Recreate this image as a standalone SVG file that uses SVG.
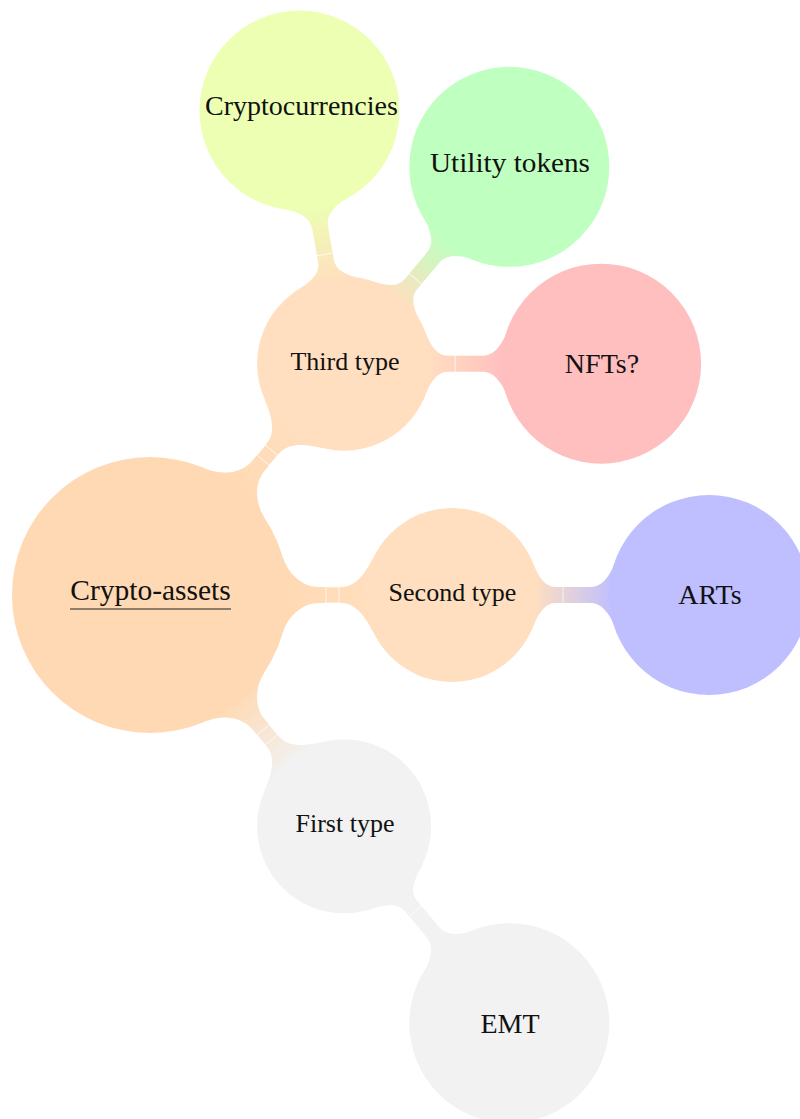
<svg xmlns="http://www.w3.org/2000/svg" width="800" height="1119" viewBox="0 0 800 1119">
  <style>
    .t0 { font-family: "Liberation Serif", "DejaVu Serif", serif; font-size: 28px; fill: #111; text-anchor: middle; }
    .tr { font-family: "Liberation Serif", "DejaVu Serif", serif; font-size: 29.5px; fill: #111; text-anchor: middle; }
    .t1 { font-family: "Liberation Serif", "DejaVu Serif", serif; font-size: 26px; fill: #111; text-anchor: middle; }
    .mk { fill: none; stroke: #ffffff; stroke-width: 0.8; stroke-opacity: 0.9; }
  </style>
  <defs>
    <path id="barA" d="M133,-38 C137.1,-22.6 152,-8 168,-8 L192,-8 C206,-8 216.7,-23.6 223.4,-38 L224,0 L223.4,38 C216.7,23.6 206,8 192,8 L168,8 C152,8 137.1,22.6 133,38 L130,0 Z"/>
    <path id="barB" d="M79.2,-37 C85.2,-20 92,-8 104,-8 L138,-8 C149,-8 156,-16 162.6,-31 L165,0 L162.6,31 C156,16 149,8 138,8 L104,8 C92,8 85.2,20 79.2,37 L76,0 Z"/>
    <linearGradient id="gRootOr" gradientUnits="userSpaceOnUse" x1="132" y1="0" x2="224" y2="0">
      <stop offset="0" stop-color="#FFD9B3"/><stop offset="1" stop-color="#FFDFBF"/>
    </linearGradient>
    <linearGradient id="gRootGray" gradientUnits="userSpaceOnUse" x1="132" y1="0" x2="224" y2="0">
      <stop offset="0" stop-color="#FFD9B3"/><stop offset="1" stop-color="#F2F2F2"/>
    </linearGradient>
    <linearGradient id="gCrypto" gradientUnits="userSpaceOnUse" x1="82" y1="0" x2="161" y2="0">
      <stop offset="0" stop-color="#FFDFBF"/><stop offset="1" stop-color="#ECFFB3"/>
    </linearGradient>
    <linearGradient id="gUtil" gradientUnits="userSpaceOnUse" x1="82" y1="0" x2="161" y2="0">
      <stop offset="0" stop-color="#FFDFBF"/><stop offset="1" stop-color="#BFFFBF"/>
    </linearGradient>
    <linearGradient id="gNFT" gradientUnits="userSpaceOnUse" x1="82" y1="0" x2="161" y2="0">
      <stop offset="0" stop-color="#FFDFBF"/><stop offset="1" stop-color="#FFBFBF"/>
    </linearGradient>
    <linearGradient id="gART" gradientUnits="userSpaceOnUse" x1="82" y1="0" x2="161" y2="0">
      <stop offset="0" stop-color="#FFDFBF"/><stop offset="1" stop-color="#BFBFFF"/>
    </linearGradient>
  </defs>
  <rect width="800" height="1119" fill="#ffffff"/>

  <g id="connectors">
    <g transform="translate(150,595)">
      <use href="#barA" fill="url(#gRootOr)"/>
      <rect class="mk" x="176" y="-8" width="13" height="16"/>
    </g>
    <g transform="translate(150,595) rotate(-50)">
      <use href="#barA" fill="url(#gRootOr)"/>
      <rect class="mk" x="176" y="-8" width="13" height="16"/>
    </g>
    <g transform="translate(150,595) rotate(50)">
      <use href="#barA" fill="url(#gRootGray)"/>
      <rect class="mk" x="176" y="-8" width="13" height="16"/>
    </g>
    <g transform="translate(344.1,363.7) rotate(-100)">
      <use href="#barB" fill="url(#gCrypto)"/>
      <line class="mk" x1="111" y1="-8" x2="111" y2="8"/>
    </g>
    <g transform="translate(344.1,363.7) rotate(-50)">
      <use href="#barB" fill="url(#gUtil)"/>
      <line class="mk" x1="111" y1="-8" x2="111" y2="8"/>
    </g>
    <g transform="translate(344.1,363.7)">
      <use href="#barB" fill="url(#gNFT)"/>
      <line class="mk" x1="111" y1="-8" x2="111" y2="8"/>
    </g>
    <g transform="translate(452,595)">
      <use href="#barB" fill="url(#gART)"/>
      <line class="mk" x1="111" y1="-8" x2="111" y2="8"/>
    </g>
    <g transform="translate(344.1,826.3) rotate(50)">
      <use href="#barB" fill="#F2F2F2"/>
      <line class="mk" x1="111" y1="-8" x2="111" y2="8"/>
    </g>
  </g>

  <g id="root">
    <circle cx="150" cy="595" r="138" fill="#FFD9B3"/>
    <text class="tr" x="150.5" y="599.5">Crypto-assets</text>
    <line x1="70" y1="609" x2="231" y2="609" stroke="#222" stroke-width="1.2"/>
  </g>
  <g id="third-type">
    <circle cx="344.1" cy="363.7" r="87" fill="#FFDFBF"/>
    <text class="t1" x="345" y="369.5">Third type</text>
  </g>
  <g id="second-type">
    <circle cx="452" cy="595" r="87" fill="#FFDFBF"/>
    <text class="t1" x="452.5" y="601">Second type</text>
  </g>
  <g id="first-type">
    <circle cx="344.1" cy="826.3" r="87" fill="#F2F2F2"/>
    <text class="t1" x="345" y="832">First type</text>
  </g>
  <g id="cryptocurrencies">
    <circle cx="299.5" cy="110.6" r="100" fill="#ECFFB3"/>
    <text class="t0" x="301.5" y="115">Cryptocurrencies</text>
  </g>
  <g id="utility-tokens">
    <circle cx="509.3" cy="166.8" r="100" fill="#BFFFBF"/>
    <text class="t0" x="510" y="171.5" textLength="160" lengthAdjust="spacingAndGlyphs">Utility tokens</text>
  </g>
  <g id="nfts">
    <circle cx="601.1" cy="363.7" r="100" fill="#FFBFBF"/>
    <text class="t0" x="602" y="373">NFTs?</text>
  </g>
  <g id="arts">
    <circle cx="709" cy="595" r="100" fill="#BFBFFF"/>
    <text class="t0" x="710" y="604">ARTs</text>
  </g>
  <g id="emt">
    <circle cx="509.3" cy="1023.2" r="100" fill="#F2F2F2"/>
    <text class="t0" x="510" y="1033">EMT</text>
  </g>
</svg>
